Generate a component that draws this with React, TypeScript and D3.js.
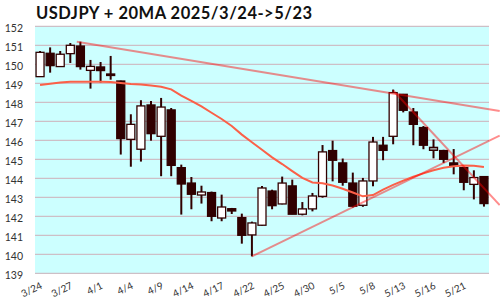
import React from "react";
import * as d3 from "d3";

const dates = ["3/24","3/25","3/26","3/27","3/28","3/31","4/1","4/2","4/3","4/4","4/7","4/8","4/9","4/10","4/11","4/14","4/15","4/16","4/17","4/18","4/21","4/22","4/23","4/24","4/25","4/28","4/29","4/30","5/1","5/2","5/5","5/6","5/7","5/8","5/9","5/12","5/13","5/14","5/15","5/16","5/19","5/20","5/21","5/22","5/23"];
const open = [149.35,150.58,149.88,150.56,150.96,149.68,149.86,149.49,149.12,146.05,145.53,147.86,146.21,147.60,144.56,143.75,143.12,143.25,141.91,142.40,141.93,141.02,141.53,143.33,142.65,143.60,142.11,142.39,143.05,145.46,144.81,143.75,142.58,143.86,145.74,146.21,148.42,147.49,146.67,145.55,145.46,144.81,144.56,143.68,144.09];
const high = [150.70,150.89,150.70,151.12,151.19,150.23,150.12,150.44,149.14,147.37,148.11,148.07,148.23,147.70,144.72,144.07,143.61,143.30,143.14,142.44,142.14,141.72,143.60,143.40,144.09,143.93,142.75,143.23,145.75,145.98,145.04,144.30,144.02,146.18,146.18,148.67,148.44,147.70,146.75,146.05,145.50,145.54,144.60,144.42,144.10];
const low = [149.33,149.56,149.86,150.07,149.72,148.72,149.04,149.19,145.25,144.61,144.88,145.98,144.11,144.11,142.09,142.37,142.67,141.74,141.74,142.12,140.56,139.89,141.50,142.37,142.63,142.11,142.05,142.26,142.98,143.84,143.61,142.46,142.50,143.58,144.95,145.79,147.47,145.74,145.53,145.05,144.81,144.21,143.37,142.89,142.51];
const close = [150.63,149.93,150.53,151.00,149.88,149.89,149.67,149.46,146.09,146.84,147.81,146.35,147.75,144.68,143.70,143.16,143.28,142.00,142.49,142.28,141.00,141.65,143.49,142.56,143.75,142.11,142.39,143.07,145.39,144.95,143.79,142.53,143.86,145.91,145.47,148.51,147.58,146.84,145.74,145.55,145.00,144.63,143.79,144.04,142.67];
const ma20 = [148.91,148.98,149.04,149.08,149.08,149.08,149.08,149.07,149.02,148.96,148.94,148.88,148.82,148.68,148.35,148.08,147.78,147.45,147.12,146.75,146.30,145.90,145.50,145.10,144.75,144.38,144.02,143.78,143.74,143.62,143.45,143.25,143.05,143.12,143.40,143.65,143.88,144.08,144.26,144.42,144.56,144.64,144.67,144.66,144.60];

// trend lines: [startIndex, startPrice, endIndex, endPrice]
const trendHighs = [3.64, 151.19, 45.56, 147.54];
const trendLows = [21, 139.89, 45.56, 146.25];
const trendDrop = [35, 148.62, 45.56, 142.59];
const trendLines = [trendHighs, trendLows, trendDrop];

const yTicks = [139,140,141,142,143,144,145,146,147,148,149,150,151,152];
const xTickEvery = 3;
const title = "USDJPY + 20MA 2025/3/24->5/23";

const W = 500, H = 300;
const plot = { left: 35, right: 489, top: 26.3, bottom: 273.3 };

export default function App() {
  const x = d3.scaleLinear().domain([-0.5, dates.length - 0.5]).range([plot.left, plot.right]);
  const y = d3.scaleLinear().domain([139, 152]).range([plot.bottom, plot.top]);
  const dark = "#300000";
  const maLine = d3.line<number>().x((_, i) => x(i)).y(d => y(d));
  const bw = 8;
  return (
    <svg width={W} height={H} style={{ position: "absolute", left: 0, top: 0, background: "#fff" }}>
      <rect x={plot.left} y={plot.top} width={plot.right - plot.left} height={plot.bottom - plot.top} fill="#ccffff" />
      {yTicks.map(t => (
        <g key={t}>
          <line x1={plot.left} x2={plot.right} y1={y(t)} y2={y(t)} stroke="#cdbfc6" strokeWidth={1.2} />
          <text x={23} y={y(t) + 5.5} textAnchor="end" fontSize={10.5} fontFamily="Lato, sans-serif" fill="#333">{t}</text>
        </g>
      ))}
      {dates.map((d, i) => i % xTickEvery === 0 ? (
        <text key={d} transform={`translate(${x(i) + 3},${288}) rotate(-26)`} textAnchor="end" fontSize={10} fontFamily="Lato, sans-serif" fill="#333">{d}</text>
      ) : null)}
      {dates.map((d, i) => {
        const o = open[i], c = close[i];
        const cx = x(i);
        const up = c > o;
        const eq = Math.abs(c - o) < 0.005;
        const top = eq ? y(o) - 1.5 : y(Math.max(o, c));
        const h = eq ? 3 : Math.max(1.5, y(Math.min(o, c)) - y(Math.max(o, c)));
        return (
          <g key={d}>
            <line x1={cx} x2={cx} y1={y(high[i])} y2={y(low[i])} stroke={dark} strokeWidth={2} />
            <rect x={cx - bw / 2} y={top} width={bw} height={h} fill={eq ? "#999" : up ? "#fff" : dark} stroke={dark} strokeWidth={1.3} />
          </g>
        );
      })}
      <path d={maLine(ma20) || ""} fill="none" stroke="#fb6048" strokeWidth={2} />
      {trendLines.map((t, k) => (
        <line key={k} x1={x(t[0])} y1={y(t[1])} x2={x(t[2])} y2={y(t[3])} stroke="rgba(255,0,0,0.45)" strokeWidth={2} />
      ))}
      <text x={36} y={19} fontSize={16.5} fontWeight="bold" letterSpacing={0.5} fontFamily="Lato, sans-serif" fill="#111">{title}</text>
    </svg>
  );
}
